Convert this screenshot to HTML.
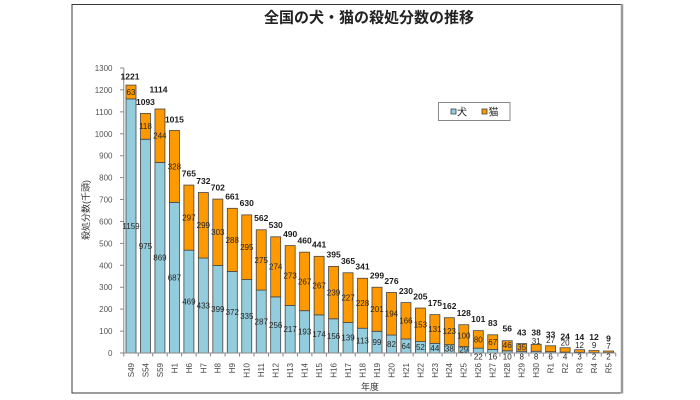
<!DOCTYPE html>
<html><head><meta charset="utf-8"><style>
html,body{margin:0;padding:0;background:#fff;}
svg{display:block;}
text{font-family:"Liberation Sans","Noto Sans CJK JP",sans-serif;}
.tot{font-size:8.5px;font-weight:bold;fill:#1a1a1a;text-anchor:middle;}
.in{font-size:8px;fill:#262626;text-anchor:middle;}
.yt{font-size:8px;fill:#555;text-anchor:end;}
.xt{font-size:8px;fill:#444;text-anchor:end;}
.d{fill:#93CDDD;stroke:#454545;stroke-width:0.8;}
.c{fill:#FF9900;stroke:#454545;stroke-width:0.8;}
</style></head><body>
<svg width="700" height="400" viewBox="0 0 700 400" xmlns="http://www.w3.org/2000/svg">
<rect x="0" y="0" width="700" height="400" fill="#fff"/>
<rect x="72" y="4.5" width="550" height="388.5" fill="#fff" stroke="#3a3a3a" stroke-width="1"/>
<line x1="622" y1="4" x2="622" y2="393.5" stroke="#999" stroke-width="2.5"/>

<text x="369" y="22.5" style="font-size:15px;font-weight:bold;fill:#222;text-anchor:middle;font-family:'Liberation Sans','Noto Sans CJK JP',sans-serif;">全国の犬・猫の殺処分数の推移</text>

<!-- legend -->
<rect x="438.5" y="102.5" width="71.5" height="18" fill="#fff" stroke="#888" stroke-width="1"/>
<rect x="451" y="109" width="5" height="5" fill="#93CDDD" stroke="#454545" stroke-width="0.8"/>
<text x="457" y="115.5" style="font-size:10px;fill:#222;">犬</text>
<rect x="482" y="109" width="5" height="5" fill="#FF9900" stroke="#454545" stroke-width="0.8"/>
<text x="488.5" y="115.5" style="font-size:10px;fill:#222;">猫</text>

<!-- y axis -->
<line x1="123.77" y1="68" x2="123.77" y2="353" stroke="#888" stroke-width="1"/>
<path d="M120 353H123.77M120 331.08H123.77M120 309.15H123.77M120 287.23H123.77M120 265.31H123.77M120 243.38H123.77M120 221.46H123.77M120 199.54H123.77M120 177.62H123.77M120 155.69H123.77M120 133.77H123.77M120 111.85H123.77M120 89.92H123.77M120 68H123.77" stroke="#888" stroke-width="1"/>
<text class="yt" x="112.5" y="356">0</text>
<text class="yt" x="112.5" y="334.1">100</text>
<text class="yt" x="112.5" y="312.2">200</text>
<text class="yt" x="112.5" y="290.2">300</text>
<text class="yt" x="112.5" y="268.3">400</text>
<text class="yt" x="112.5" y="246.4">500</text>
<text class="yt" x="112.5" y="224.5">600</text>
<text class="yt" x="112.5" y="202.5">700</text>
<text class="yt" x="112.5" y="180.6">800</text>
<text class="yt" x="112.5" y="158.7">900</text>
<text class="yt" x="112.5" y="136.8">1000</text>
<text class="yt" x="112.5" y="114.9">1100</text>
<text class="yt" x="112.5" y="92.9">1200</text>
<text class="yt" x="112.5" y="71">1300</text>
<text transform="translate(89,210) rotate(-90)" style="font-size:9px;fill:#333;text-anchor:middle;">殺処分数(千頭)</text>

<!-- bars -->
<g>
<rect class="d" x="126.00" y="98.91" width="10" height="254.09"/><rect class="c" x="126.00" y="85.10" width="10" height="13.81"/>
<rect class="d" x="140.47" y="139.25" width="10" height="213.75"/><rect class="c" x="140.47" y="113.38" width="10" height="25.87"/>
<rect class="d" x="154.94" y="162.49" width="10" height="190.51"/><rect class="c" x="154.94" y="109.00" width="10" height="53.49"/>
<rect class="d" x="169.41" y="202.39" width="10" height="150.61"/><rect class="c" x="169.41" y="130.48" width="10" height="71.91"/>
<rect class="d" x="183.88" y="250.18" width="10" height="102.82"/><rect class="c" x="183.88" y="185.07" width="10" height="65.11"/>
<rect class="d" x="198.35" y="258.07" width="10" height="94.93"/><rect class="c" x="198.35" y="192.52" width="10" height="65.55"/>
<rect class="d" x="212.82" y="265.53" width="10" height="87.47"/><rect class="c" x="212.82" y="199.10" width="10" height="66.43"/>
<rect class="d" x="227.29" y="271.45" width="10" height="81.55"/><rect class="c" x="227.29" y="208.31" width="10" height="63.14"/>
<rect class="d" x="241.76" y="279.56" width="10" height="73.44"/><rect class="c" x="241.76" y="214.89" width="10" height="64.67"/>
<rect class="d" x="256.23" y="290.08" width="10" height="62.92"/><rect class="c" x="256.23" y="229.79" width="10" height="60.29"/>
<rect class="d" x="270.70" y="296.88" width="10" height="56.12"/><rect class="c" x="270.70" y="236.81" width="10" height="60.07"/>
<rect class="d" x="285.17" y="305.43" width="10" height="47.57"/><rect class="c" x="285.17" y="245.58" width="10" height="59.85"/>
<rect class="d" x="299.64" y="310.69" width="10" height="42.31"/><rect class="c" x="299.64" y="252.16" width="10" height="58.53"/>
<rect class="d" x="314.11" y="314.85" width="10" height="38.15"/><rect class="c" x="314.11" y="256.32" width="10" height="58.53"/>
<rect class="d" x="328.58" y="318.80" width="10" height="34.20"/><rect class="c" x="328.58" y="266.40" width="10" height="52.40"/>
<rect class="d" x="343.05" y="322.53" width="10" height="30.47"/><rect class="c" x="343.05" y="272.76" width="10" height="49.77"/>
<rect class="d" x="357.52" y="328.23" width="10" height="24.77"/><rect class="c" x="357.52" y="278.25" width="10" height="49.98"/>
<rect class="d" x="371.99" y="331.30" width="10" height="21.70"/><rect class="c" x="371.99" y="287.23" width="10" height="44.07"/>
<rect class="d" x="386.46" y="335.02" width="10" height="17.98"/><rect class="c" x="386.46" y="292.49" width="10" height="42.53"/>
<rect class="d" x="400.93" y="338.97" width="10" height="14.03"/><rect class="c" x="400.93" y="302.58" width="10" height="36.39"/>
<rect class="d" x="415.40" y="341.60" width="10" height="11.40"/><rect class="c" x="415.40" y="308.06" width="10" height="33.54"/>
<rect class="d" x="429.87" y="343.35" width="10" height="9.65"/><rect class="c" x="429.87" y="314.63" width="10" height="28.72"/>
<rect class="d" x="444.34" y="344.67" width="10" height="8.33"/><rect class="c" x="444.34" y="317.70" width="10" height="26.97"/>
<rect class="d" x="458.81" y="346.64" width="10" height="6.36"/><rect class="c" x="458.81" y="324.72" width="10" height="21.92"/>
<rect class="d" x="473.28" y="348.18" width="10" height="4.82"/><rect class="c" x="473.28" y="330.64" width="10" height="17.54"/>
<rect class="d" x="487.75" y="349.49" width="10" height="3.51"/><rect class="c" x="487.75" y="334.80" width="10" height="14.69"/>
<rect class="d" x="502.22" y="350.81" width="10" height="2.19"/><rect class="c" x="502.22" y="340.73" width="10" height="10.08"/>
<rect class="d" x="516.69" y="351.25" width="10" height="1.75"/><rect class="c" x="516.69" y="343.58" width="10" height="7.67"/>
<rect class="d" x="531.16" y="351.25" width="10" height="1.75"/><rect class="c" x="531.16" y="344.45" width="10" height="6.80"/>
<rect class="d" x="545.63" y="351.68" width="10" height="1.32"/><rect class="c" x="545.63" y="345.76" width="10" height="5.92"/>
<rect class="d" x="560.10" y="352.12" width="10" height="0.88"/><rect class="c" x="560.10" y="347.74" width="10" height="4.38"/>
<rect class="d" x="574.57" y="352.34" width="10" height="0.66"/><rect class="c" x="574.57" y="349.71" width="10" height="2.63"/>
<rect class="d" x="589.04" y="352.56" width="10" height="0.44"/><rect class="c" x="589.04" y="350.59" width="10" height="1.97"/>
<rect class="d" x="603.51" y="352.56" width="10" height="0.44"/><rect class="c" x="603.51" y="351.03" width="10" height="1.53"/>
</g>

<!-- x axis -->
<line x1="123.77" y1="353" x2="615.75" y2="353" stroke="#888" stroke-width="1"/>
<path d="M123.77 353V356.5M138.24 353V356.5M152.71 353V356.5M167.18 353V356.5M181.65 353V356.5M196.12 353V356.5M210.59 353V356.5M225.06 353V356.5M239.53 353V356.5M254.00 353V356.5M268.47 353V356.5M282.94 353V356.5M297.41 353V356.5M311.88 353V356.5M326.35 353V356.5M340.82 353V356.5M355.29 353V356.5M369.76 353V356.5M384.23 353V356.5M398.70 353V356.5M413.17 353V356.5M427.64 353V356.5M442.11 353V356.5M456.58 353V356.5M471.05 353V356.5M485.52 353V356.5M499.99 353V356.5M514.46 353V356.5M528.93 353V356.5M543.40 353V356.5M557.87 353V356.5M572.34 353V356.5M586.81 353V356.5M601.28 353V356.5M615.75 353V356.5" stroke="#888" stroke-width="1"/>

<!-- totals -->
<text class="tot" x="130" y="79.7">1221</text>
<text class="tot" x="145.47" y="105">1093</text>
<text class="tot" x="158.5" y="92.3">1114</text>
<text class="tot" x="174.41" y="122.3">1015</text>
<text class="tot" x="188.88" y="176.4">765</text>
<text class="tot" x="203.35" y="183.8">732</text>
<text class="tot" x="217.82" y="190.4">702</text>
<text class="tot" x="232.29" y="199.6">661</text>
<text class="tot" x="246.76" y="206.2">630</text>
<text class="tot" x="261.23" y="221.1">562</text>
<text class="tot" x="275.70" y="228.1">530</text>
<text class="tot" x="290.17" y="236.9">490</text>
<text class="tot" x="304.64" y="243.5">460</text>
<text class="tot" x="319.11" y="247.6">441</text>
<text class="tot" x="333.58" y="257.7">395</text>
<text class="tot" x="348.05" y="264.1">365</text>
<text class="tot" x="362.52" y="269.6">341</text>
<text class="tot" x="376.99" y="278.5">299</text>
<text class="tot" x="391.46" y="283.8">276</text>
<text class="tot" x="405.93" y="293.9">230</text>
<text class="tot" x="420.40" y="299.4">205</text>
<text class="tot" x="434.87" y="305.9">175</text>
<text class="tot" x="449.34" y="309.0">162</text>
<text class="tot" x="463.81" y="316.0">128</text>
<text class="tot" x="478.28" y="321.9">101</text>
<text class="tot" x="492.75" y="326.1">83</text>
<text class="tot" x="507.22" y="331.3">56</text>
<text class="tot" x="521.69" y="335.3">43</text>
<text class="tot" x="536.16" y="335.3">38</text>
<text class="tot" x="550.63" y="337.3">33</text>
<text class="tot" x="565.10" y="339.3">24</text>
<text class="tot" x="579.57" y="340.0">14</text>
<text class="tot" x="594.04" y="340.0">12</text>
<text class="tot" x="608.51" y="341.7">9</text>

<!-- cat labels -->
<text class="in" x="131.00" y="94.9">63</text>
<text class="in" x="145.47" y="129.2">118</text>
<text class="in" x="159.94" y="138.6">244</text>
<text class="in" x="174.41" y="169.3">328</text>
<text class="in" x="188.88" y="220.5">297</text>
<text class="in" x="203.35" y="228.2">299</text>
<text class="in" x="217.82" y="235.2">303</text>
<text class="in" x="232.29" y="242.8">288</text>
<text class="in" x="246.76" y="250.1">295</text>
<text class="in" x="261.23" y="262.8">275</text>
<text class="in" x="275.70" y="269.7">274</text>
<text class="in" x="290.17" y="278.4">273</text>
<text class="in" x="304.64" y="284.3">267</text>
<text class="in" x="319.11" y="288.5">267</text>
<text class="in" x="333.58" y="295.5">239</text>
<text class="in" x="348.05" y="300.5">227</text>
<text class="in" x="362.52" y="306.1">228</text>
<text class="in" x="376.99" y="312.2">201</text>
<text class="in" x="391.46" y="316.7">194</text>
<text class="in" x="405.93" y="323.7">166</text>
<text class="in" x="420.40" y="327.7">153</text>
<text class="in" x="434.87" y="331.9">131</text>
<text class="in" x="449.34" y="334.1">123</text>
<text class="in" x="463.81" y="338.6">100</text>
<text class="in" x="478.28" y="342.3">80</text>
<text class="in" x="492.75" y="345.0">67</text>
<text class="in" x="507.22" y="347.9">46</text>
<text class="in" x="521.69" y="349.9">35</text>
<text class="in" x="536.16" y="344.2">31</text>
<text class="in" x="550.63" y="342.9">27</text>
<text class="in" x="565.10" y="345.6">20</text>
<text class="in" x="579.57" y="348.2">12</text>
<text class="in" x="594.04" y="348.2">9</text>
<text class="in" x="608.51" y="348.9">7</text>

<!-- dog labels -->
<text class="in" x="131.00" y="228.9">1159</text>
<text class="in" x="145.47" y="249.0">975</text>
<text class="in" x="159.94" y="260.6">869</text>
<text class="in" x="174.41" y="280.6">687</text>
<text class="in" x="188.88" y="304.5">469</text>
<text class="in" x="203.35" y="308.4">433</text>
<text class="in" x="217.82" y="312.2">399</text>
<text class="in" x="232.29" y="315.1">372</text>
<text class="in" x="246.76" y="319.2">335</text>
<text class="in" x="261.23" y="324.4">287</text>
<text class="in" x="275.70" y="327.8">256</text>
<text class="in" x="290.17" y="332.1">217</text>
<text class="in" x="304.64" y="334.7">193</text>
<text class="in" x="319.11" y="336.8">174</text>
<text class="in" x="333.58" y="338.8">156</text>
<text class="in" x="348.05" y="340.7">139</text>
<text class="in" x="362.52" y="343.5">113</text>
<text class="in" x="376.99" y="345.1">99</text>
<text class="in" x="391.46" y="346.9">82</text>
<text class="in" x="405.93" y="348.9">64</text>
<text class="in" x="420.40" y="350.2">52</text>
<text class="in" x="434.87" y="351.1">44</text>
<text class="in" x="449.34" y="351.7">38</text>
<text class="in" x="463.81" y="352.7">29</text>
<text class="in" x="478.28" y="359.4">22</text>
<text class="in" x="492.75" y="359.4">16</text>
<text class="in" x="507.22" y="359.4">10</text>
<text class="in" x="521.69" y="359.4">8</text>
<text class="in" x="536.16" y="359.4">8</text>
<text class="in" x="550.63" y="359.4">6</text>
<text class="in" x="565.10" y="359.4">4</text>
<text class="in" x="579.57" y="359.4">3</text>
<text class="in" x="594.04" y="359.4">2</text>
<text class="in" x="608.51" y="359.4">2</text>

<!-- x tick labels -->
<text class="xt" transform="translate(133.9,363) rotate(-90)">S49</text>
<text class="xt" transform="translate(148.4,363) rotate(-90)">S54</text>
<text class="xt" transform="translate(162.8,363) rotate(-90)">S59</text>
<text class="xt" transform="translate(177.3,363) rotate(-90)">H1</text>
<text class="xt" transform="translate(191.8,363) rotate(-90)">H6</text>
<text class="xt" transform="translate(206.3,363) rotate(-90)">H7</text>
<text class="xt" transform="translate(220.7,363) rotate(-90)">H8</text>
<text class="xt" transform="translate(235.2,363) rotate(-90)">H9</text>
<text class="xt" transform="translate(249.7,363) rotate(-90)">H10</text>
<text class="xt" transform="translate(264.1,363) rotate(-90)">H11</text>
<text class="xt" transform="translate(278.6,363) rotate(-90)">H12</text>
<text class="xt" transform="translate(293.1,363) rotate(-90)">H13</text>
<text class="xt" transform="translate(307.5,363) rotate(-90)">H14</text>
<text class="xt" transform="translate(322.0,363) rotate(-90)">H15</text>
<text class="xt" transform="translate(336.5,363) rotate(-90)">H16</text>
<text class="xt" transform="translate(351.0,363) rotate(-90)">H17</text>
<text class="xt" transform="translate(365.4,363) rotate(-90)">H18</text>
<text class="xt" transform="translate(379.9,363) rotate(-90)">H19</text>
<text class="xt" transform="translate(394.4,363) rotate(-90)">H20</text>
<text class="xt" transform="translate(408.8,363) rotate(-90)">H21</text>
<text class="xt" transform="translate(423.3,363) rotate(-90)">H22</text>
<text class="xt" transform="translate(437.8,363) rotate(-90)">H23</text>
<text class="xt" transform="translate(452.2,363) rotate(-90)">H24</text>
<text class="xt" transform="translate(466.7,363) rotate(-90)">H25</text>
<text class="xt" transform="translate(481.2,363) rotate(-90)">H26</text>
<text class="xt" transform="translate(495.7,363) rotate(-90)">H27</text>
<text class="xt" transform="translate(510.1,363) rotate(-90)">H28</text>
<text class="xt" transform="translate(524.6,363) rotate(-90)">H29</text>
<text class="xt" transform="translate(539.1,363) rotate(-90)">H30</text>
<text class="xt" transform="translate(553.5,363) rotate(-90)">R1</text>
<text class="xt" transform="translate(568.0,363) rotate(-90)">R2</text>
<text class="xt" transform="translate(582.5,363) rotate(-90)">R3</text>
<text class="xt" transform="translate(596.9,363) rotate(-90)">R4</text>
<text class="xt" transform="translate(611.4,363) rotate(-90)">R5</text>

<text x="370" y="390" style="font-size:9px;fill:#333;text-anchor:middle;">年度</text>
</svg>
</body></html>
